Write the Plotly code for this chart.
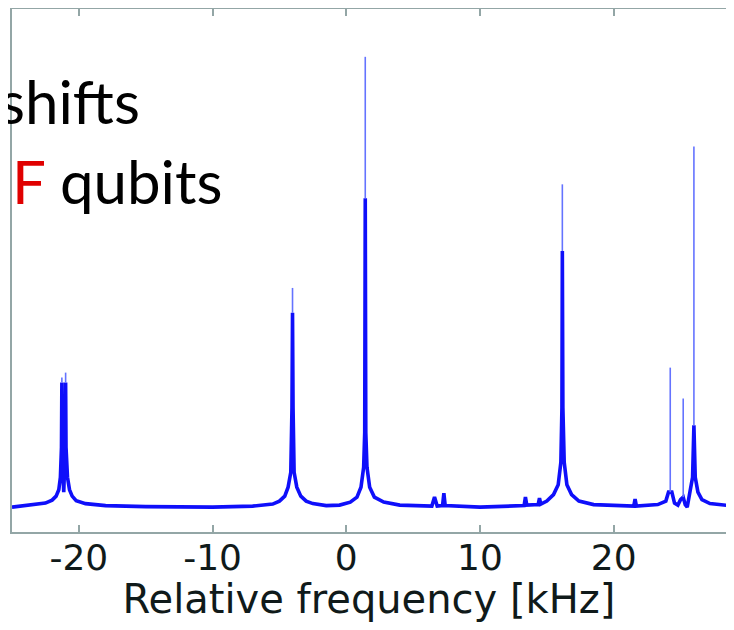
import plotly.graph_objects as go

# ---- spectrum (frequency in kHz, intensity in arbitrary units) ----
freq_khz = [
    -25.0, -23.5, -22.5, -22.0, -21.7, -21.5, -21.38, -21.3, -21.27, -21.24, -21.13,
    -21.02, -20.99, -20.96, -20.85, -20.7, -20.5, -20.2, -19.5, -18.0, -15.0, -10.0,
    -7.0, -5.5, -5.0, -4.6, -4.35, -4.15, -4.06, -4.02, -3.98, -3.9, -3.7, -3.4, -3.0,
    -2.5, -1.5, -0.5, 0.3, 0.8, 1.1, 1.3, 1.38, 1.42, 1.46, 1.55, 1.75, 2.1, 2.8, 4.0,
    6.4, 6.6, 6.8, 7.2, 7.3, 7.4, 10.0, 13.3, 13.4, 13.5, 14.35, 14.45, 14.55, 15.0,
    15.5, 15.85, 16.05, 16.13, 16.16, 16.2, 16.3, 16.5, 16.85, 17.4, 18.5, 21.5, 21.6,
    21.7, 23.3, 23.9, 24.1, 24.23, 24.35, 24.55, 24.8, 25.0, 25.2, 25.35, 25.5, 25.7,
    25.9, 26.0, 26.1, 26.3, 26.6, 27.2, 29.0,
]
intensity = [
    0.0, 0.004, 0.008, 0.014, 0.022, 0.035, 0.06, 0.12, 0.25, 0.10, 0.03,
    0.12, 0.25, 0.12, 0.06, 0.035, 0.022, 0.013, 0.007, 0.003, 0.001, 0.0,
    0.002, 0.006, 0.012, 0.022, 0.04, 0.07, 0.2, 0.39, 0.2, 0.07, 0.04, 0.022, 0.012,
    0.007, 0.003, 0.004, 0.01, 0.02, 0.04, 0.08, 0.15, 0.62, 0.15, 0.08, 0.04, 0.02, 0.01, 0.004,
    0.002, 0.02, 0.002, 0.003, 0.028, 0.003, 0.0, 0.003, 0.02, 0.004, 0.005, 0.018, 0.006, 0.012,
    0.025, 0.045, 0.09, 0.2, 0.514, 0.2, 0.09, 0.045, 0.025, 0.012, 0.005, 0.002, 0.016,
    0.002, 0.005, 0.012, 0.03, 0.03, 0.03, 0.008, 0.004, 0.015, 0.02, 0.005, 0.0, 0.03,
    0.06, 0.164, 0.06, 0.03, 0.015, 0.007, 0.002,
]

# narrow spike tips above the broad part of each line
peak_freq = [-21.27, -20.99, -4.02, 1.42, 16.16, 24.23, 25.2, 26.0]
peak_base = [0.25, 0.25, 0.39, 0.62, 0.514, 0.03, 0.02, 0.164]
peak_top = [0.26, 0.27, 0.44, 0.904, 0.648, 0.28, 0.218, 0.724]

tick_vals = [-20, -10, 0, 10, 20]
tick_text = ["-20", "-10", "0", "10", "20"]
x_title = "Relative frequency [kHz]"

tip_x, tip_y = [], []
for f, b, t in zip(peak_freq, peak_base, peak_top):
    tip_x += [f, f, None]
    tip_y += [b, t, None]

fig = go.Figure()
fig.add_trace(go.Scatter(x=freq_khz, y=intensity, mode="lines",
                         line=dict(color="rgb(15,15,250)", width=3.6),
                         showlegend=False, hoverinfo="skip"))
fig.add_trace(go.Scatter(x=tip_x, y=tip_y, mode="lines",
                         line=dict(color="rgb(100,115,255)", width=1.6),
                         showlegend=False, hoverinfo="skip"))

axis_col = "#93a6a6"
fig.update_layout(
    width=718, height=614,
    margin=dict(l=4, r=0, t=1, b=90),
    paper_bgcolor="white", plot_bgcolor="white",
    font=dict(family="DejaVu Sans", color="#101a1a"),
    xaxis=dict(range=[-25, 28.4], tickvals=tick_vals, ticktext=tick_text,
               ticks="inside", ticklen=7, tickwidth=1.5, tickcolor=axis_col,
               showline=True, linecolor=axis_col, linewidth=1.5, mirror="ticks",
               showgrid=False, zeroline=False, automargin=False,
               ticklabelstandoff=-7,
               tickfont=dict(family="DejaVu Sans", size=36, color="#101a1a"),
               title=dict(text=x_title, standoff=4,
                          font=dict(family="DejaVu Sans", size=40, color="#101a1a"))),
    yaxis=dict(range=[-0.05, 1.0], showticklabels=False, ticks="",
               showline=True, linecolor=axis_col, linewidth=1.5,
               showgrid=False, zeroline=False, automargin=False),
)

# helpers converting page pixels of the reference into paper coordinates
def px_x(p):
    return (p - 12) / 714

def px_y(p):
    return 1 - (p - 9) / 523

fig.add_annotation(xref="paper", yref="paper", x=px_x(142), y=px_y(101),
                   xanchor="right", yanchor="middle", showarrow=False,
                   text="shifts", font=dict(family="Lato", size=60, color="black"))
fig.add_annotation(xref="paper", yref="paper", x=px_x(10), y=px_y(181),
                   xanchor="left", yanchor="middle", showarrow=False,
                   text="<span style='color:#e00000'>F</span> qubits",
                   font=dict(family="Lato", size=60, color="black"))

fig.write_html("out.html")
